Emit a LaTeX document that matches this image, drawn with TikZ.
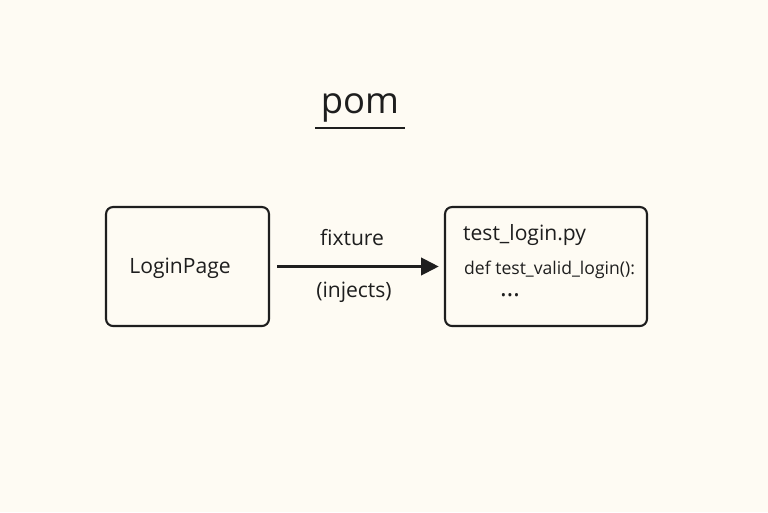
\documentclass[tikz,border=0pt]{standalone}
\usepackage{fontspec}
\setmainfont{Open Sans}
\usepackage{tikz}
\usetikzlibrary{positioning,arrows.meta}
\definecolor{paper}{HTML}{FEFBF3}
\definecolor{ink}{HTML}{1E1E1E}
\tikzset{
	box/.style={draw=ink, line width=1.2pt, rounded corners=4pt, minimum width=3.26cm, minimum height=2.38cm},
	lbl/.style={text=ink, font=\large},
}
\begin{document}
\begin{tikzpicture}[x=0.02cm, y=0.02cm]
	\fill [paper] (0,0) rectangle (768,512);
	\useasboundingbox (0,0) rectangle (768,512);
	
	\node [lbl, font=\huge] (title) at (360,404) {pom};
	\coordinate (ulA) at (315,384);
	\coordinate (ulB) at (405,384);
	\draw [line width=1.2pt, draw=ink] (ulA) -- (ulB);
	
	\node [box] (page) at (187.5,245.5) {};
	\node [box, minimum width=4.04cm] (test) at (546,245.5) {};
	
	\node [lbl] (pagetxt) at (180,244) {LoginPage};
	\node [lbl, anchor=west] (file) at (457,277) {test\_login.py};
	\node [text=ink, anchor=west] (def) at (458,242) {def test\_valid\_login():};
	\node [lbl, font=\Large] (dots) at (510,217) {\dots};
	
	\draw [line width=1.2pt, draw=ink, -{Triangle[length=10pt,width=10pt]}] (page.east)+(7,0) -- ([xshift=-3pt]test.west);
	\node [lbl] (fix) at (352,274) {fixture};
	\node [lbl] (inj) at (354,220) {(injects)};
\end{tikzpicture}
\end{document}
